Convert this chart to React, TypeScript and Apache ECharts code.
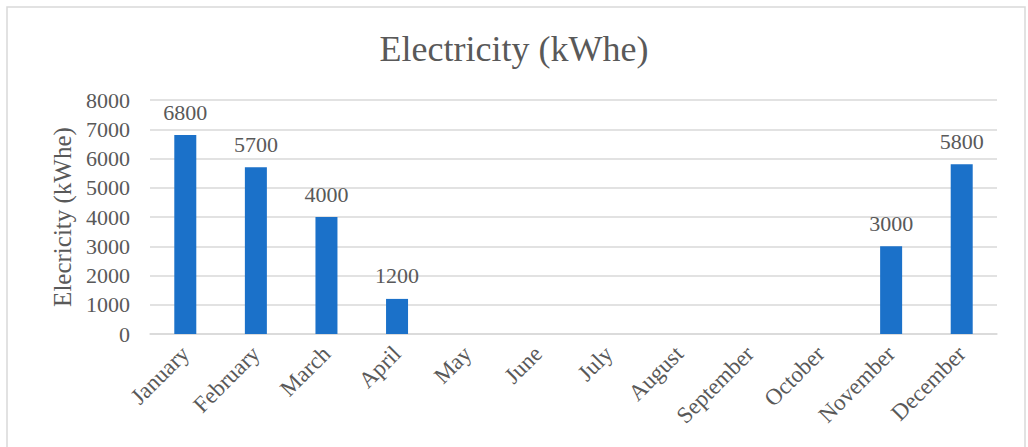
import React, { useEffect, useRef } from "react";
import * as echarts from "echarts";

const months = [
  "January", "February", "March", "April", "May", "June",
  "July", "August", "September", "October", "November", "December",
];
const electricity = [6800, 5700, 4000, 1200, 0, 0, 0, 0, 0, 0, 3000, 5800];
const yTicks = { min: 0, max: 8000, interval: 1000 };

const FONT = "'Liberation Serif', 'Times New Roman', serif";
const TEXT = "#595959";
const GRID = "#d9d9d9";
const BAR = "#1b71c9";

export default function App() {
  const ref = useRef<HTMLDivElement>(null);

  useEffect(() => {
    if (!ref.current) return;
    const chart = echarts.init(ref.current, undefined, { renderer: "svg" });
    chart.setOption({
      animation: false,
      backgroundColor: "#ffffff",
      textStyle: { fontFamily: FONT },
      title: {
        text: "Electricity (kWhe)",
        left: "center",
        top: 26,
        textStyle: { fontFamily: FONT, fontSize: 36, fontWeight: "normal", color: TEXT },
      },
      graphic: [
        {
          type: "rect",
          shape: { x: 7, y: 7, width: 1018, height: 460 },
          style: { fill: "none", stroke: GRID, lineWidth: 1.5 },
          silent: true,
        },
      ],
      grid: { left: 150, right: 31, top: 100, bottom: 113 },
      xAxis: {
        type: "category",
        data: months,
        axisLine: { lineStyle: { color: GRID, width: 1.5 } },
        axisTick: { show: false },
        axisLabel: {
          rotate: 45,
          interval: 0,
          margin: 16,
          fontFamily: FONT,
          fontSize: 23,
          color: TEXT,
        },
      },
      yAxis: {
        type: "value",
        min: yTicks.min,
        max: yTicks.max,
        interval: yTicks.interval,
        name: "Elecricity (kWhe)",
        nameLocation: "middle",
        nameRotate: 90,
        nameGap: 75,
        nameTextStyle: { fontFamily: FONT, fontSize: 25, color: TEXT },
        axisLine: { show: false },
        axisTick: { show: false },
        splitLine: { lineStyle: { color: GRID, width: 1.5 } },
        axisLabel: {
          margin: 20,
          fontFamily: FONT,
          fontSize: 22,
          color: TEXT,
          formatter: (v: number) => String(v),
        },
      },
      series: [
        {
          type: "bar",
          data: electricity,
          barWidth: 22,
          itemStyle: { color: BAR },
          label: {
            show: true,
            position: "top",
            distance: 12,
            fontFamily: FONT,
            fontSize: 22,
            color: TEXT,
            formatter: (p: any) => (p.value > 0 ? String(p.value) : ""),
          },
        },
      ],
    });
    return () => chart.dispose();
  }, []);

  return (
    <div
      ref={ref}
      style={{ position: "fixed", left: 0, top: 0, width: 1028, height: 447 }}
    />
  );
}
